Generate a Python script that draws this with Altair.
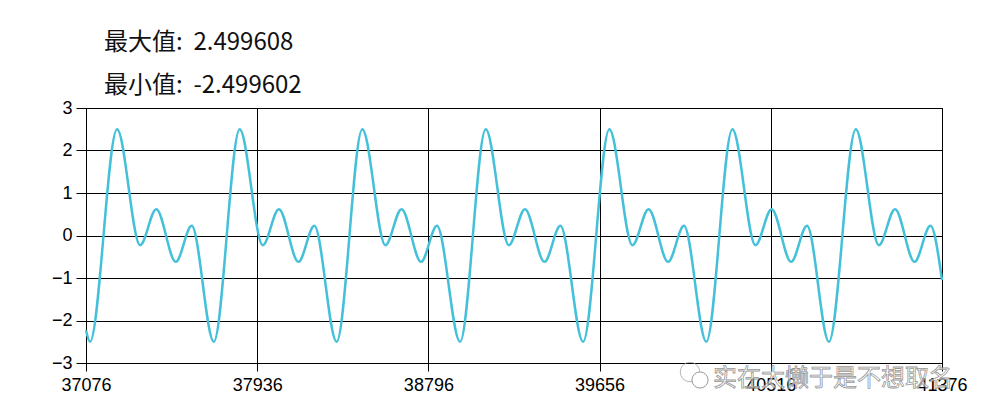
import altair as alt
import pandas as pd

# Waveform samples (extrema + ends)
x_values = [
    37076, 37096,
    37232, 37348, 37429, 37527, 37607, 37718,
    37848, 37964, 38045, 38143, 38223, 38335,
    38464, 38580, 38661, 38759, 38839, 38955,
    39084, 39200, 39281, 39379, 39459, 39573,
    39705, 39821, 39902, 40000, 40080, 40192,
    40323, 40439, 40520, 40618, 40698, 40808,
    40943, 41059, 41140, 41238, 41318, 41376,
]
y_values = [
    -2.23, -2.4996,
    2.4996, -0.23, 0.62, -0.62, 0.23, -2.4996,
    2.4996, -0.23, 0.62, -0.62, 0.23, -2.4996,
    2.4996, -0.23, 0.62, -0.62, 0.23, -2.4996,
    2.4996, -0.23, 0.62, -0.62, 0.23, -2.4996,
    2.4996, -0.23, 0.62, -0.62, 0.23, -2.4996,
    2.4996, -0.23, 0.62, -0.62, 0.23, -2.4996,
    2.4996, -0.23, 0.62, -0.62, 0.23, -1.05,
]

x_ticks = [37076, 37936, 38796, 39656, 40516, 41376]
y_ticks = [-3, -2, -1, 0, 1, 2, 3]

stat_names = ["最大值", "最小值"]
stat_values = ["2.499608", "-2.499602"]
watermark = ["实在太懒于是不想取名"]

df = pd.DataFrame({"x": x_values, "y": y_values})

label_font = "Liberation Sans"
cjk_font = "Noto Sans CJK SC"

x_enc = alt.X(
    "x:Q",
    scale=alt.Scale(domain=[x_ticks[0], x_ticks[-1]], nice=False, zero=False),
    axis=alt.Axis(
        values=x_ticks, format="d", title=None,
        labelFont=label_font, labelFontSize=18, labelColor="black",
        labelOverlap=False, labelFlush=False, labelPadding=5,
        tickColor="black", tickSize=8, tickWidth=1,
        domainColor="black", domainWidth=1,
        grid=True, gridColor="black", gridOpacity=1, gridWidth=1,
    ),
)
y_enc = alt.Y(
    "y:Q",
    scale=alt.Scale(domain=[y_ticks[0], y_ticks[-1]], nice=False, zero=False),
    axis=alt.Axis(
        values=y_ticks, format="d", title=None,
        labelFont=label_font, labelFontSize=18, labelColor="black",
        labelOverlap=False, labelPadding=4,
        tickColor="black", tickSize=10, tickWidth=1,
        domainColor="black", domainWidth=1,
        grid=True, gridColor="black", gridOpacity=1, gridWidth=1,
    ),
)

line = alt.Chart(df).mark_line(
    color="#45C0D9", strokeWidth=2.5, interpolate="monotone"
).encode(x=x_enc, y=y_enc)

t1 = alt.Chart(pd.DataFrame({"t": [f"{stat_names[0]}: \u00a0{stat_values[0]}"]})).mark_text(
    align="left", baseline="alphabetic", font=cjk_font, fontSize=24, color="#111111"
).encode(text="t:N", x=alt.value(18), y=alt.value(-58))

t2 = alt.Chart(pd.DataFrame({"t": [f"{stat_names[1]}: \u00a0{stat_values[1]}"]})).mark_text(
    align="left", baseline="alphabetic", font=cjk_font, fontSize=24, color="#111111"
).encode(text="t:N", x=alt.value(18), y=alt.value(-15))

wm = alt.Chart(pd.DataFrame({"t": watermark})).mark_text(
    align="left", baseline="alphabetic", font=cjk_font, fontSize=24,
    fill="white", fillOpacity=0.6, stroke="#8a8a8a", strokeWidth=0.8, strokeOpacity=0.9
).encode(text="t:N", x=alt.value(627), y=alt.value(278))

icon_big = alt.Chart(pd.DataFrame({"t": watermark})).mark_point(
    shape="circle", size=380, filled=False, color="#9a9a9a", strokeWidth=1
).encode(x=alt.value(604), y=alt.value(264))

icon_small = alt.Chart(pd.DataFrame({"t": watermark})).mark_point(
    shape="circle", size=260, filled=True, fill="white", stroke="#9a9a9a", strokeWidth=1, opacity=1
).encode(x=alt.value(614), y=alt.value(272))

chart = alt.layer(line, t1, t2, icon_big, icon_small, wm).properties(
    width=856,
    height=255,
    padding={"left": 78, "top": 100, "right": 30, "bottom": 40},
    autosize=alt.AutoSizeParams(type="none"),
).configure_view(stroke="black", strokeWidth=1)

chart.save("out.html", embed_options={"renderer": "svg", "actions": False})
